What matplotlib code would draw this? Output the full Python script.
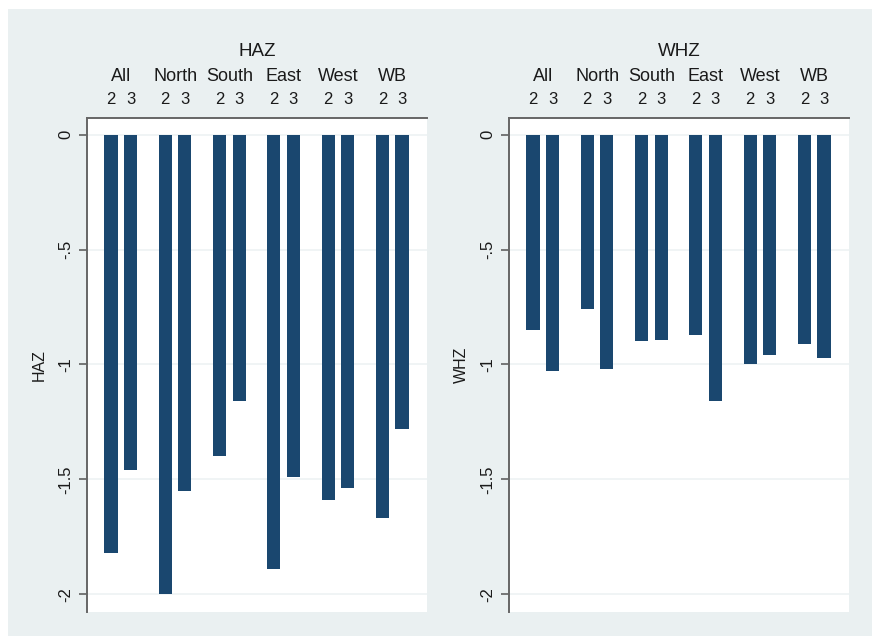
import numpy as np
import matplotlib
matplotlib.use("Agg")
import matplotlib.pyplot as plt
from matplotlib.patches import Rectangle
from matplotlib.transforms import blended_transform_factory

regions = ["All", "North", "South", "East", "West", "WB"]
rounds = ["2", "3"]
haz_2 = [-1.82, -2.00, -1.40, -1.89, -1.59, -1.67]
haz_3 = [-1.46, -1.55, -1.16, -1.49, -1.54, -1.28]
whz_2 = [-0.85, -0.76, -0.90, -0.87, -1.00, -0.91]
whz_3 = [-1.03, -1.02, -0.895, -1.16, -0.96, -0.97]
yticks = [0, -0.5, -1, -1.5, -2]
ytick_labels = ["0", "-.5", "-1", "-1.5", "-2"]

plt.rcParams["font.family"] = ["Liberation Sans", "DejaVu Sans"]

navy = "#1a476f"
bg = "#eaf0f1"
txt = "#1a1a1a"

fig = plt.figure(figsize=(8.72, 6.36), dpi=100, facecolor="white")
fig.patches.append(Rectangle((8 / 872, 0), 1, 627 / 636, transform=fig.transFigure,
                             facecolor=bg, edgecolor="none", zorder=-10))

group_gap = 2.78
bar_w = 0.67
centers = np.arange(len(regions)) * group_gap
pos2 = centers - 0.5
pos3 = centers + 0.5


def draw_panel(ax, v2, v3, name):
    ax.set_facecolor("white")
    ax.bar(pos2, v2, width=bar_w, color=navy, zorder=3)
    ax.bar(pos3, v3, width=bar_w, color=navy, zorder=3)
    ax.set_xlim(pos2[0] - 1.23, pos3[-1] + 1.28)
    ax.set_ylim(-2.078, 0.073)

    ax.set_yticks(yticks)
    ax.set_yticklabels(ytick_labels, rotation=90, va="center", fontsize=12, color=txt)
    ax.tick_params(axis="y", length=6, width=1.2, color="#606060", pad=4)
    ax.yaxis.grid(True, color="#eef2f4", linewidth=1.2, zorder=0)

    ticks = np.concatenate([pos2, pos3])
    labs = [rounds[0]] * len(pos2) + [rounds[1]] * len(pos3)
    ax.xaxis.tick_top()
    ax.set_xticks(ticks)
    ax.set_xticklabels(labs, fontsize=12, color=txt)
    ax.tick_params(axis="x", length=0, pad=8)

    for s in ["right", "bottom"]:
        ax.spines[s].set_visible(False)
    for s in ["left", "top"]:
        ax.spines[s].set_color("#666666")
        ax.spines[s].set_linewidth(1.4)

    tr = blended_transform_factory(ax.transData, ax.transAxes)
    for c, r in zip(centers, regions):
        ax.text(c, 1.085, r, transform=tr, ha="center", va="center", fontsize=13,
                color=txt)
    ax.text(0.5, 1.134, name, transform=ax.transAxes, ha="center", va="center",
            fontsize=13.5, color=txt)

    ax.set_ylabel(name, fontsize=11.5, color=txt)
    ax.yaxis.set_label_coords(-0.118, 0.5)


ax1 = fig.add_axes([87 / 872, 24 / 636, 340 / 872, 494 / 636])
draw_panel(ax1, haz_2, haz_3, "HAZ")
ax2 = fig.add_axes([509 / 872, 24 / 636, 340 / 872, 494 / 636])
draw_panel(ax2, whz_2, whz_3, "WHZ")

fig.savefig("out.png", dpi=100, facecolor="white")
